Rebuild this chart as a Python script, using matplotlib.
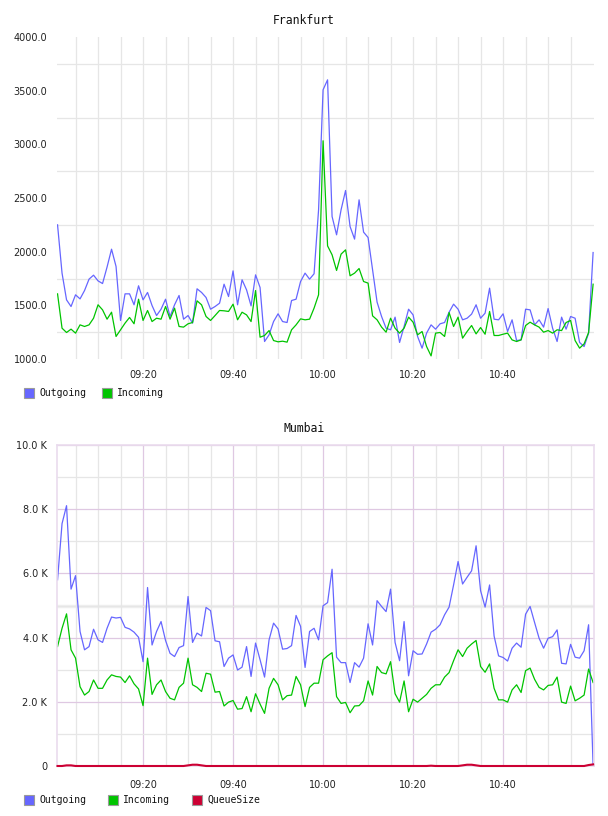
import numpy as np
import matplotlib
matplotlib.use("Agg")
import matplotlib.pyplot as plt
from matplotlib.patches import Rectangle
from matplotlib.ticker import FixedLocator, FuncFormatter

# minutes after 09:00, one sample per minute
minutes = np.arange(1, 121)

fra_out = [2250, 1800, 1551, 1489, 1598, 1560, 1638, 1744, 1781, 1728,
           1703, 1856, 2023, 1862, 1359, 1607, 1607, 1505, 1682, 1551,
           1620, 1498, 1405, 1464, 1557, 1396, 1505, 1592, 1371, 1405,
           1334, 1654, 1620, 1573, 1464, 1489, 1520, 1697, 1582, 1821,
           1505, 1738, 1644, 1495, 1784, 1666, 1163, 1225, 1349, 1421,
           1349, 1340, 1545, 1557, 1722, 1800, 1744, 1794, 2390,
           3508, 3601, 2328, 2157, 2390, 2570, 2234, 2117, 2483, 2182,
           2132, 1831, 1530, 1396, 1287, 1272, 1390, 1154, 1303, 1464,
           1411, 1210, 1101, 1241, 1318, 1278, 1328, 1340, 1436, 1511,
           1464, 1365, 1380, 1418, 1505, 1380, 1427, 1660, 1371, 1365,
           1421, 1256, 1365, 1172, 1178, 1464, 1458, 1318, 1365, 1297,
           1470, 1287, 1163, 1390, 1278, 1396, 1380, 1154, 1116, 1241,
           1992]

fra_in = [1607, 1287, 1247, 1278, 1241, 1318, 1303, 1318, 1380, 1505,
          1458, 1371, 1436, 1210, 1272, 1334, 1387, 1328, 1557, 1359,
          1452, 1349, 1380, 1371, 1489, 1371, 1474, 1303, 1297, 1328,
          1340, 1542, 1505, 1396, 1359, 1405, 1452, 1449, 1443, 1511,
          1365, 1436, 1411, 1349, 1638, 1203, 1219, 1265, 1172, 1160,
          1166, 1157, 1272, 1318, 1374, 1365, 1371, 1474, 1598,
          3033, 2054, 1971, 1825, 1977, 2017, 1775, 1800, 1843, 1722,
          1707, 1402, 1365, 1297, 1250, 1380, 1287, 1241, 1287, 1390,
          1343, 1225, 1256, 1116, 1029, 1241, 1247, 1210, 1433, 1303,
          1390, 1194, 1256, 1312, 1234, 1293, 1231, 1443, 1219, 1219,
          1231, 1241, 1178, 1163, 1178, 1312, 1343, 1318, 1297, 1250,
          1265, 1241, 1272, 1265, 1340, 1359, 1172, 1101, 1141, 1247,
          1697]

# Mumbai values in thousands
mum_out = [5.80, 7.55, 8.11, 5.51, 5.93, 4.19, 3.62, 3.72, 4.26, 3.93,
           3.85, 4.29, 4.64, 4.61, 4.63, 4.32, 4.27, 4.17, 4.01, 3.25,
           5.56, 3.77, 4.19, 4.50, 3.91, 3.51, 3.41, 3.69, 3.75, 5.28,
           3.85, 4.14, 4.05, 4.94, 4.84, 3.90, 3.87, 3.10, 3.36, 3.46,
           2.99, 3.08, 3.72, 2.79, 3.83, 3.31, 2.77, 3.93, 4.45, 4.27,
           3.64, 3.66, 3.75, 4.69, 4.35, 3.07, 4.19, 4.29, 3.93,
           4.99, 5.09, 6.13, 3.39, 3.22, 3.22, 2.60, 3.22, 3.08, 3.36,
           4.43, 3.77, 5.15, 4.97, 4.81, 5.51, 3.85, 3.28, 4.50, 2.81,
           3.59, 3.48, 3.49, 3.80, 4.17, 4.26, 4.40, 4.71, 4.95, 5.64,
           6.37, 5.67, 5.88, 6.08, 6.86, 5.46, 4.95, 5.64, 4.05, 3.43,
           3.38, 3.27, 3.67, 3.83, 3.70, 4.73, 4.97, 4.47, 3.98, 3.67,
           3.98, 4.03, 4.24, 3.20, 3.18, 3.79, 3.39, 3.36, 3.59, 4.40,
           0.0]

mum_in = [3.72, 4.29, 4.74, 3.62, 3.36, 2.47, 2.21, 2.32, 2.68, 2.42,
          2.42, 2.68, 2.84, 2.79, 2.77, 2.60, 2.81, 2.56, 2.40, 1.88,
          3.36, 2.23, 2.53, 2.68, 2.32, 2.11, 2.06, 2.45, 2.58, 3.36,
          2.53, 2.45, 2.32, 2.89, 2.86, 2.30, 2.32, 1.87, 1.99, 2.04,
          1.77, 1.79, 2.16, 1.69, 2.25, 1.93, 1.64, 2.42, 2.73, 2.53,
          2.06, 2.19, 2.21, 2.79, 2.53, 1.85, 2.45, 2.58, 2.58,
          3.31, 3.43, 3.53, 2.16, 1.95, 1.98, 1.66, 1.87, 1.88, 2.03,
          2.65, 2.21, 3.10, 2.91, 2.87, 3.25, 2.25, 1.99, 2.65, 1.69,
          2.08, 1.99, 2.11, 2.23, 2.42, 2.53, 2.53, 2.77, 2.91, 3.28,
          3.62, 3.41, 3.67, 3.80, 3.91, 3.10, 2.92, 3.18, 2.42, 2.06,
          2.06, 1.99, 2.37, 2.53, 2.29, 2.97, 3.05, 2.70, 2.45, 2.37,
          2.51, 2.53, 2.77, 1.99, 1.95, 2.49, 2.03, 2.11, 2.21, 3.02,
          2.60]

mum_queue = [0.00, 0.00, 0.02, 0.02, 0.00, 0.00, 0.00, 0.00, 0.00, 0.00,
             0.00, 0.00, 0.00, 0.00, 0.00, 0.00, 0.00, 0.00, 0.00, 0.00,
             0.00, 0.00, 0.00, 0.00, 0.00, 0.00, 0.00, 0.00, 0.00, 0.02,
             0.04, 0.04, 0.02, 0.00, 0.00, 0.00, 0.00, 0.00, 0.00, 0.00,
             0.00, 0.00, 0.00, 0.00, 0.00, 0.00, 0.00, 0.00, 0.00, 0.00,
             0.00, 0.00, 0.00, 0.00, 0.00, 0.00, 0.00, 0.00, 0.00, 0.00,
             0.00, 0.00, 0.00, 0.00, 0.00, 0.00, 0.00, 0.00, 0.00, 0.00,
             0.00, 0.00, 0.00, 0.00, 0.00, 0.00, 0.00, 0.00, 0.00, 0.00,
             0.00, 0.00, 0.00, 0.01, 0.00, 0.00, 0.00, 0.00, 0.00, 0.00,
             0.02, 0.04, 0.04, 0.02, 0.00, 0.00, 0.00, 0.00, 0.00, 0.00,
             0.00, 0.00, 0.00, 0.00, 0.00, 0.00, 0.00, 0.00, 0.00, 0.00,
             0.00, 0.00, 0.00, 0.00, 0.00, 0.00, 0.00, 0.00, 0.03, 0.05]

time_ticks = [20, 40, 60, 80, 100]
time_labels = ["09:20", "09:40", "10:00", "10:20", "10:40"]

C_OUT = "#6666ff"
C_IN = "#00c400"
C_Q = "#cc0033"
GRID = "#e6e6e6"
PURPLE = "#dfc8e2"

W, H = 608, 816
fig = plt.figure(figsize=(W / 100, H / 100), dpi=100)


def px_axes(left, top, right, bottom):
    return fig.add_axes([left / W, 1 - bottom / H, (right - left) / W, (bottom - top) / H])


def time_axis(ax):
    ax.set_xlim(0.88, 120.2)
    ax.xaxis.set_major_locator(FixedLocator(time_ticks))
    ax.set_xticklabels(time_labels)
    ax.xaxis.set_minor_locator(FixedLocator(list(range(5, 120, 5))))
    ax.tick_params(which="both", length=0, labelsize=7, colors="#222222")


def legend(y, items):
    for x, color, label in items:
        fig.patches.append(Rectangle((x / W, 1 - (y + 5) / H), 10 / W, 10 / H,
                                     transform=fig.transFigure, facecolor=color,
                                     edgecolor="#9a9a9a", linewidth=0.8))
        fig.text((x + 15) / W, 1 - y / H, label, fontsize=7, family="DejaVu Sans Mono",
                 va="center", ha="left", color="#111111")


# ---- Frankfurt
ax1 = px_axes(57, 37, 594, 359)
ax1.plot(minutes, fra_out, color=C_OUT, lw=0.9)
ax1.plot(minutes, fra_in, color=C_IN, lw=0.9)
ax1.set_ylim(1000, 4000)
ax1.set_yticks(np.arange(1000, 4001, 500))
ax1.set_yticklabels([f"{v:.1f}" for v in np.arange(1000, 4001, 500)])
ax1.yaxis.set_minor_locator(FixedLocator(np.arange(1250, 4000, 500)))
time_axis(ax1)
ax1.tick_params(axis="x", pad=8)
ax1.tick_params(axis="y", pad=7)
ax1.grid(which="minor", axis="y", color=GRID, lw=0.9)
ax1.grid(which="both", axis="x", color=GRID, lw=0.9)
ax1.set_axisbelow(True)
for s in ax1.spines.values():
    s.set_visible(False)
fig.text(304 / W, 1 - 20 / H, "Frankfurt", ha="center", va="center",
         fontsize=8.3, family="DejaVu Sans Mono", color="#111111")
legend(393, [(24, C_OUT, "Outgoing"), (102, C_IN, "Incoming")])

# ---- Mumbai
ax2 = px_axes(57, 445, 594, 766)
ax2.plot(minutes, np.array(mum_out) * 1000, color=C_OUT, lw=0.9)
ax2.plot(minutes, np.array(mum_in) * 1000, color=C_IN, lw=0.9)
ax2.plot(minutes, np.array(mum_queue) * 1000, color=C_Q, lw=1.5, clip_on=False, zorder=4)
ax2.set_ylim(0, 10000)
ax2.set_yticks(np.arange(0, 10001, 2000))
ax2.yaxis.set_major_formatter(FuncFormatter(lambda v, p: "0" if v == 0 else f"{v / 1000:.1f} K"))
ax2.yaxis.set_minor_locator(FixedLocator(np.arange(1000, 10000, 2000)))
time_axis(ax2)
ax2.tick_params(axis="x", pad=10)
ax2.tick_params(axis="y", pad=7)
ax2.grid(which="major", color=PURPLE, lw=0.9)
ax2.grid(which="minor", color=GRID, lw=0.9)
ax2.axhline(5000, color="#f0f0f0", lw=2.5, zorder=0.5)
ax2.set_axisbelow(True)
for s in ax2.spines.values():
    s.set_color("#eadcee")
    s.set_linewidth(1.2)
fig.text(304 / W, 1 - 429 / H, "Mumbai", ha="center", va="center",
         fontsize=8.3, family="DejaVu Sans Mono", color="#111111")
legend(800, [(24, C_OUT, "Outgoing"), (108, C_IN, "Incoming"), (192, C_Q, "QueueSize")])

fig.savefig("out.png", dpi=100)
